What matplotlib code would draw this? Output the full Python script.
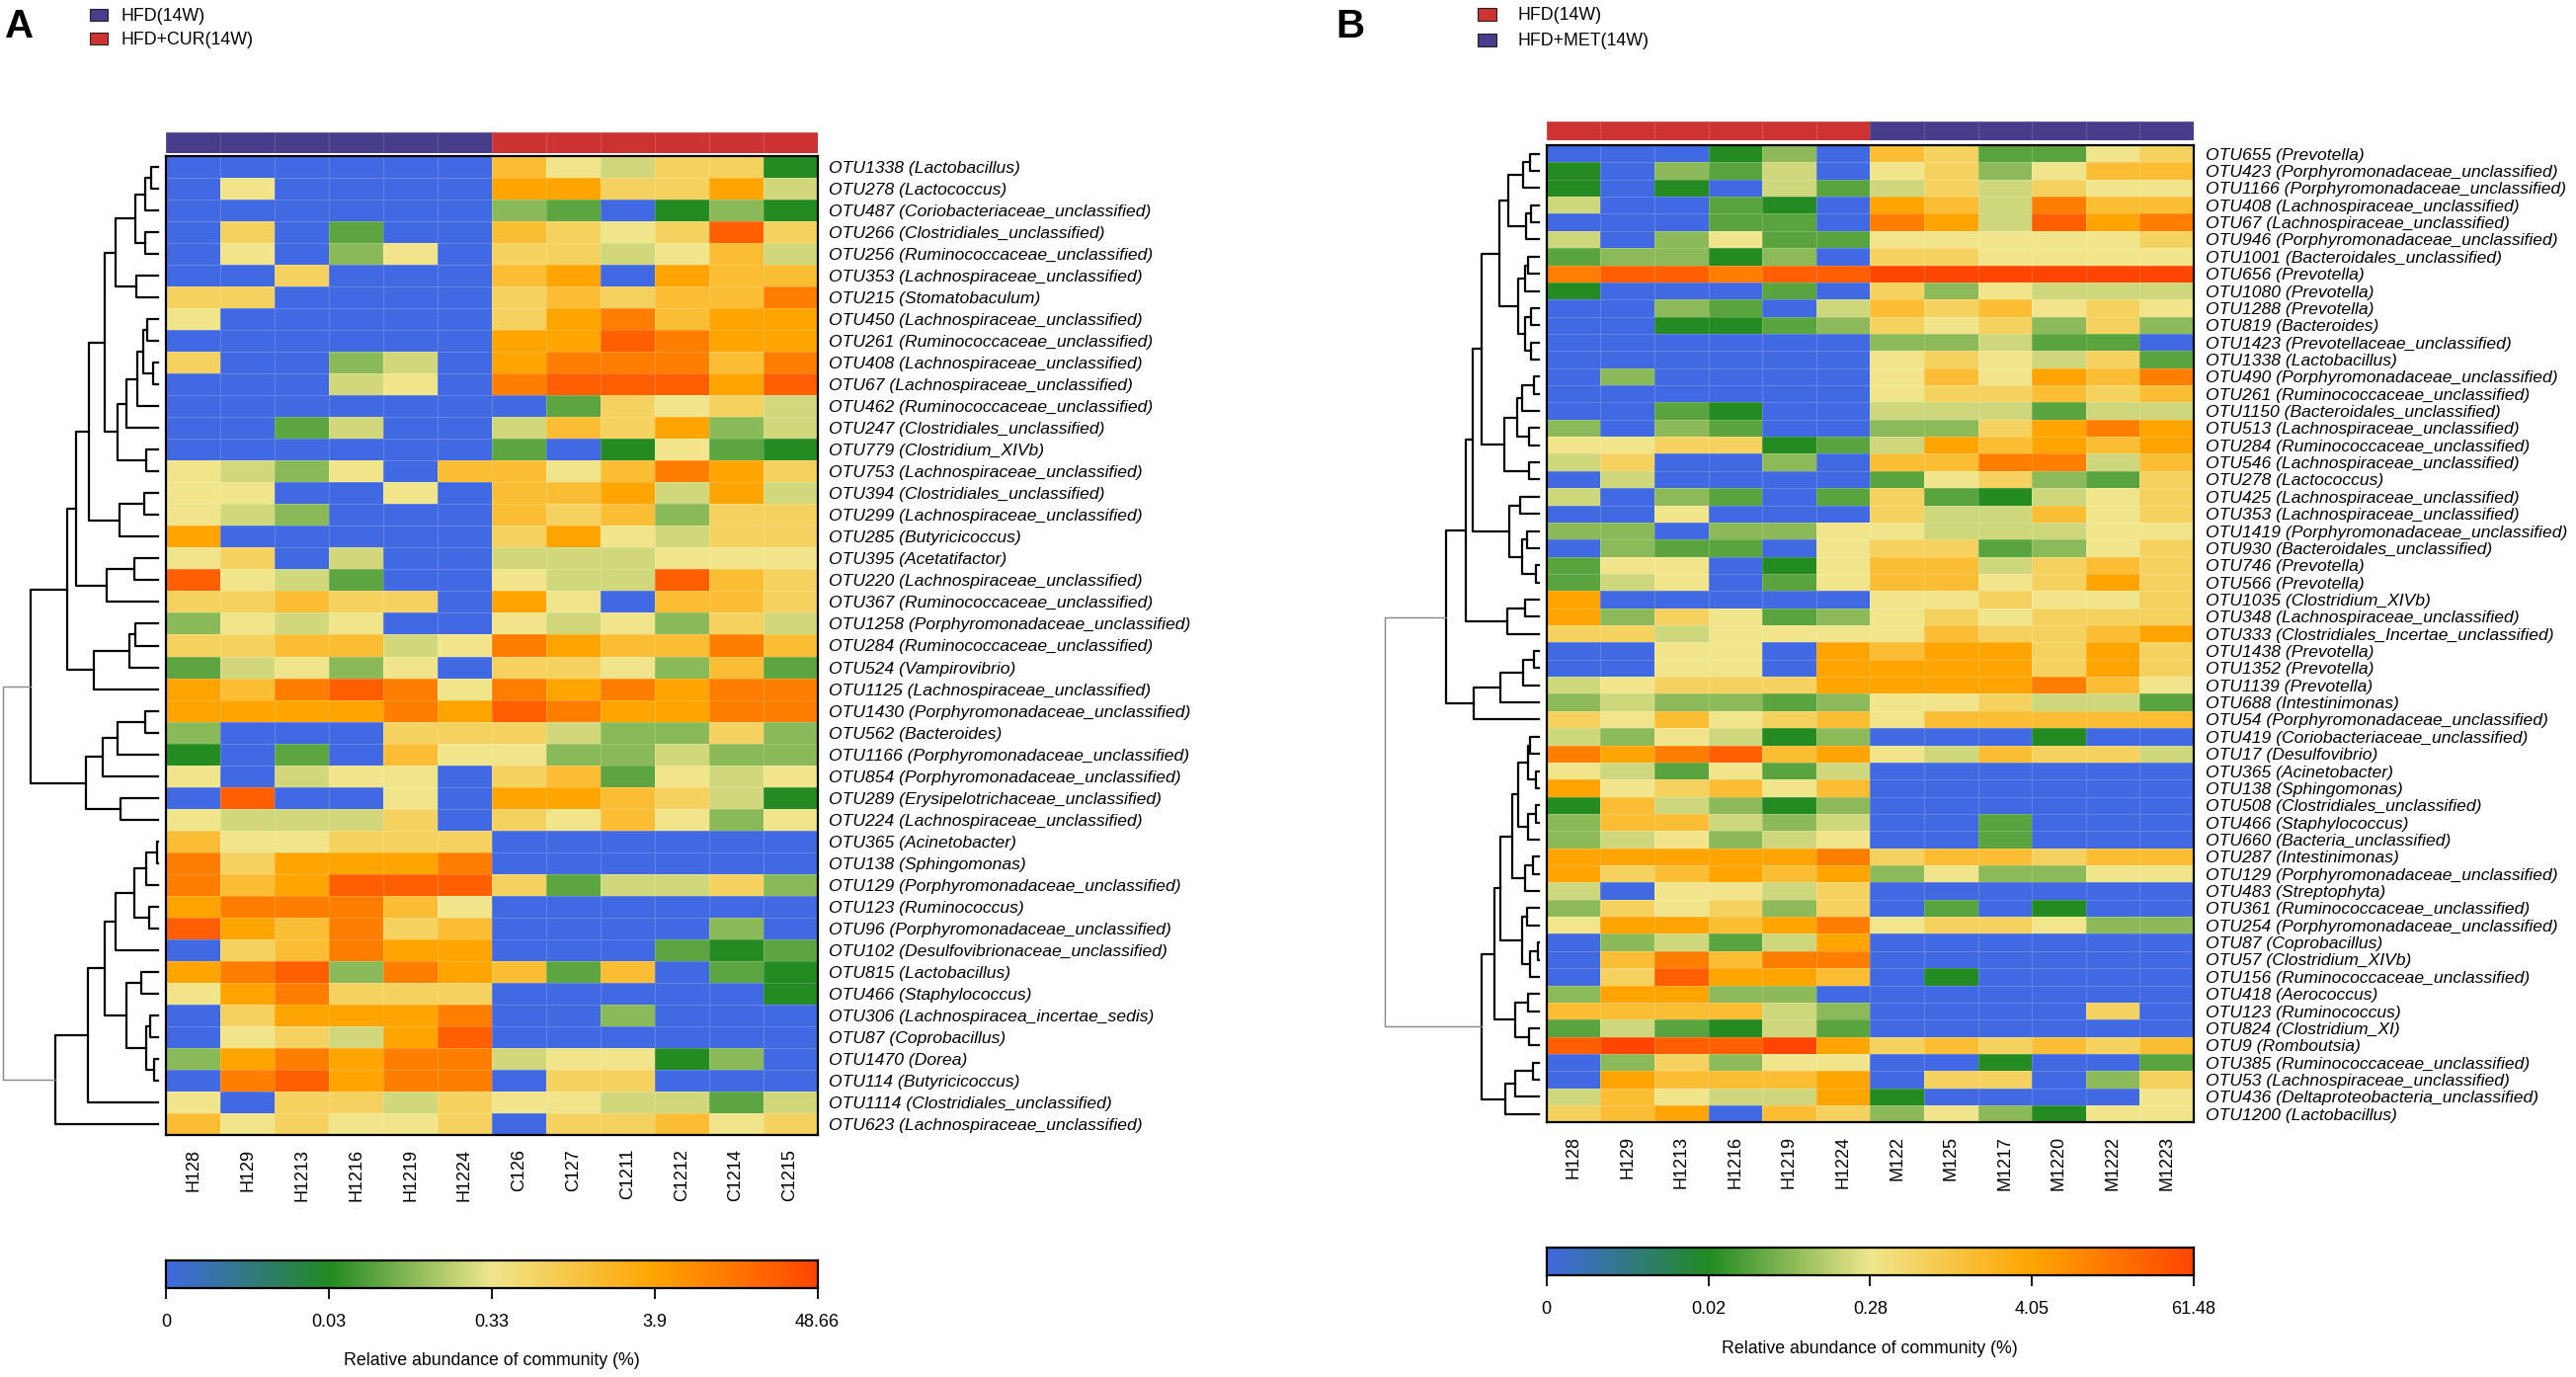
import numpy as np
import matplotlib.pyplot as plt
from matplotlib.colors import LinearSegmentedColormap, ListedColormap
from matplotlib.patches import Rectangle

plt.rcParams['font.family'] = ['Liberation Sans', 'DejaVu Sans']

W, H = 2608, 1394
PURPLE = '#483D8B'
RED = '#CD3333'
cmap = LinearSegmentedColormap.from_list(
    'abund', ['royalblue', 'forestgreen', 'khaki', 'orange', 'orangered'], N=256)

# ---------------- panel A : HFD vs HFD+CUR ----------------
samples_a = ['H128', 'H129', 'H1213', 'H1216', 'H1219', 'H1224',
             'C126', 'C127', 'C1211', 'C1212', 'C1214', 'C1215']
groups_a = [0] * 6 + [1] * 6
legend_a = ['HFD(14W)', 'HFD+CUR(14W)']
otus_a = [
    'OTU1338 (Lactobacillus)', 'OTU278 (Lactococcus)', 'OTU487 (Coriobacteriaceae_unclassified)',
    'OTU266 (Clostridiales_unclassified)', 'OTU256 (Ruminococcaceae_unclassified)',
    'OTU353 (Lachnospiraceae_unclassified)', 'OTU215 (Stomatobaculum)',
    'OTU450 (Lachnospiraceae_unclassified)', 'OTU261 (Ruminococcaceae_unclassified)',
    'OTU408 (Lachnospiraceae_unclassified)', 'OTU67 (Lachnospiraceae_unclassified)',
    'OTU462 (Ruminococcaceae_unclassified)', 'OTU247 (Clostridiales_unclassified)',
    'OTU779 (Clostridium_XIVb)', 'OTU753 (Lachnospiraceae_unclassified)',
    'OTU394 (Clostridiales_unclassified)', 'OTU299 (Lachnospiraceae_unclassified)',
    'OTU285 (Butyricicoccus)', 'OTU395 (Acetatifactor)', 'OTU220 (Lachnospiraceae_unclassified)',
    'OTU367 (Ruminococcaceae_unclassified)', 'OTU1258 (Porphyromonadaceae_unclassified)',
    'OTU284 (Ruminococcaceae_unclassified)', 'OTU524 (Vampirovibrio)',
    'OTU1125 (Lachnospiraceae_unclassified)', 'OTU1430 (Porphyromonadaceae_unclassified)',
    'OTU562 (Bacteroides)', 'OTU1166 (Porphyromonadaceae_unclassified)',
    'OTU854 (Porphyromonadaceae_unclassified)', 'OTU289 (Erysipelotrichaceae_unclassified)',
    'OTU224 (Lachnospiraceae_unclassified)', 'OTU365 (Acinetobacter)', 'OTU138 (Sphingomonas)',
    'OTU129 (Porphyromonadaceae_unclassified)', 'OTU123 (Ruminococcus)',
    'OTU96 (Porphyromonadaceae_unclassified)', 'OTU102 (Desulfovibrionaceae_unclassified)',
    'OTU815 (Lactobacillus)', 'OTU466 (Staphylococcus)', 'OTU306 (Lachnospiracea_incertae_sedis)',
    'OTU87 (Coprobacillus)', 'OTU1470 (Dorea)', 'OTU114 (Butyricicoccus)',
    'OTU1114 (Clostridiales_unclassified)', 'OTU623 (Lachnospiraceae_unclassified)',
]
# colour level read from each cell: 0 = blue ... b = deepest orange-red
cells_a = [
    '000000754661', '050000886684', '000000320131', '0602007656a6', '050350664574',
    '006000780877', '660000676779', '500000689788', '00000088a988', '600340899979',
    '0004509aaa8a', '000000026564', '002400476834', '000000201521', '543507757986',
    '550050778484', '543000767366', '800000685466', '560400444555', 'a54200544a76',
    '667660850776', '354500545364', '667745987797', '245350665372', '879a95989899',
    '888898a98899', '300066643363', '102075533433', '504550672545', '0a0050887641',
    '544460657535', '755666000000', '968889000000', '978aaa624463', '899975000000',
    'a87967000030', '067988000212', '89a398727021', '589666000001', '068889003000',
    '05648a000000', '389899455130', '09a899066000', '506646554424', '756556066756',
]
ticks_a = [0, 0.03, 0.33, 3.9, 48.66]
pct_a = {'0': 0, '1': 0.03, '2': 0.059, '3': 0.10, '4': 0.23, '5': 0.33, '6': 0.73,
         '7': 1.6, '8': 3.9, '9': 10.7, 'a': 24.0, 'b': 48.66}

# row dendrogram: (left, right, merge height)
a01 = (0, 1, 7.3); a0_2 = (a01, 2, 13.3); a34 = (3, 4, 12.7); a0_4 = (a0_2, a34, 23)
a56 = (5, 6, 22); a0_6 = (a0_4, a56, 42.7)
a78 = (7, 8, 10.7); a910 = (9, 10, 4.7); a7_10 = (a78, a910, 15); a7_11 = (a7_10, 11, 20.7)
a7_12 = (a7_11, 12, 32); a1314 = (13, 14, 12.3); a7_14 = (a7_12, a1314, 40.7)
a0_14 = (a0_6, a7_14, 54)
a1516 = (15, 16, 14); a15_17 = (a1516, 17, 39); a0_17 = (a0_14, a15_17, 70)
a1819 = (18, 19, 24.3); a18_20 = (a1819, 20, 52.3); a0_20 = (a0_17, a18_20, 83)
a2122 = (21, 22, 23.3); a21_23 = (a2122, 23, 29.5); a21_24 = (a21_23, 24, 65)
a0_24 = (a0_20, a21_24, 92)
a2526 = (25, 26, 12.7); a25_27 = (a2526, 27, 40.7); a25_28 = (a25_27, 28, 55.7)
a2930 = (29, 30, 37.7); a25_30 = (a25_28, a2930, 73.3); a0_30 = (a0_24, a25_30, 129.3)
a3132 = (31, 32, 1.3); a31_33 = (a3132, 33, 11.7); a3435 = (34, 35, 9)
a31_35 = (a31_33, a3435, 24); a31_36 = (a31_35, 36, 43.3)
a3738 = (37, 38, 17.3); a3940 = (39, 40, 7.7); a4142 = (41, 42, 4.3)
a39_42 = (a3940, a4142, 12.3); a37_42 = (a3738, a39_42, 31.7)
a31_42 = (a31_36, a37_42, 54); a31_43 = (a31_42, 43, 71); a31_44 = (a31_43, 44, 104)
tree_a = (a0_30, a31_44, 156.7)

# ---------------- panel B : HFD vs HFD+MET ----------------
samples_b = ['H128', 'H129', 'H1213', 'H1216', 'H1219', 'H1224',
             'M122', 'M125', 'M1217', 'M1220', 'M1222', 'M1223']
groups_b = [1] * 6 + [0] * 6
legend_b = ['HFD(14W)', 'HFD+MET(14W)']
otus_b = [
    'OTU655 (Prevotella)', 'OTU423 (Porphyromonadaceae_unclassified)',
    'OTU1166 (Porphyromonadaceae_unclassified)', 'OTU408 (Lachnospiraceae_unclassified)',
    'OTU67 (Lachnospiraceae_unclassified)', 'OTU946 (Porphyromonadaceae_unclassified)',
    'OTU1001 (Bacteroidales_unclassified)', 'OTU656 (Prevotella)', 'OTU1080 (Prevotella)',
    'OTU1288 (Prevotella)', 'OTU819 (Bacteroides)', 'OTU1423 (Prevotellaceae_unclassified)',
    'OTU1338 (Lactobacillus)', 'OTU490 (Porphyromonadaceae_unclassified)',
    'OTU261 (Ruminococcaceae_unclassified)', 'OTU1150 (Bacteroidales_unclassified)',
    'OTU513 (Lachnospiraceae_unclassified)', 'OTU284 (Ruminococcaceae_unclassified)',
    'OTU546 (Lachnospiraceae_unclassified)', 'OTU278 (Lactococcus)',
    'OTU425 (Lachnospiraceae_unclassified)', 'OTU353 (Lachnospiraceae_unclassified)',
    'OTU1419 (Porphyromonadaceae_unclassified)', 'OTU930 (Bacteroidales_unclassified)',
    'OTU746 (Prevotella)', 'OTU566 (Prevotella)', 'OTU1035 (Clostridium_XIVb)',
    'OTU348 (Lachnospiraceae_unclassified)', 'OTU333 (Clostridiales_Incertae_unclassified)',
    'OTU1438 (Prevotella)', 'OTU1352 (Prevotella)', 'OTU1139 (Prevotella)',
    'OTU688 (Intestinimonas)', 'OTU54 (Porphyromonadaceae_unclassified)',
    'OTU419 (Coriobacteriaceae_unclassified)', 'OTU17 (Desulfovibrio)', 'OTU365 (Acinetobacter)',
    'OTU138 (Sphingomonas)', 'OTU508 (Clostridiales_unclassified)', 'OTU466 (Staphylococcus)',
    'OTU660 (Bacteria_unclassified)', 'OTU287 (Intestinimonas)',
    'OTU129 (Porphyromonadaceae_unclassified)', 'OTU483 (Streptophyta)',
    'OTU361 (Ruminococcaceae_unclassified)', 'OTU254 (Porphyromonadaceae_unclassified)',
    'OTU87 (Coprobacillus)', 'OTU57 (Clostridium_XIVb)', 'OTU156 (Ruminococcaceae_unclassified)',
    'OTU418 (Aerococcus)', 'OTU123 (Ruminococcus)', 'OTU824 (Clostridium_XI)', 'OTU9 (Romboutsia)',
    'OTU385 (Ruminococcaceae_unclassified)', 'OTU53 (Lachnospiraceae_unclassified)',
    'OTU436 (Deltaproteobacteria_unclassified)', 'OTU1200 (Lactobacillus)',
]
cells_b = [
    '000130762256', '103240563577', '101042464655', '400210874977', '000220984a89',
    '403522555556', '233130665555', '9aa9aabbbbbb', '100020635444', '003204767565',
    '001123656363', '000000334220', '000000565462', '030000575879', '000000566767',
    '002100444244', '303200336898', '556612487878', '460030779947', '040000256326',
    '403202621456', '005000644756', '330335544455', '032205662356', '255015774676',
    '245025775686', '800000556556', '836523565666', '664555576678', '005508788686',
    '005508888686', '456668888975', '343323556442', '657567577777', '435413000100',
    '989a78547664', '542524000000', '856757000000', '174313000000', '377434002000',
    '345345002000', '888889677677', '867878353355', '405546000000', '365636020100',
    '588789566533', '034248000000', '079799000000', '06a887010000', '388330000000',
    '777743000060', '242142000000', 'abaab8676767', '036355001002', '087778066036',
    '475448100005', '678076353155',
]
ticks_b = [0, 0.02, 0.28, 4.05, 61.48]
pct_b = {'0': 0, '1': 0.02, '2': 0.042, '3': 0.079, '4': 0.18, '5': 0.28, '6': 0.66,
         '7': 1.55, '8': 4.05, '9': 12.0, 'a': 28.7, 'b': 61.48}

b01 = (0, 1, 8.7); b0_2 = (b01, 2, 16); b34 = (3, 4, 7.7); b3_5 = (b34, 5, 12.7)
b0_5 = (b0_2, b3_5, 31)
b67 = (6, 7, 10.3); b6_8 = (b67, 8, 13.7); b910 = (9, 10, 7.3); b1112 = (11, 12, 7.3)
b9_12 = (b910, b1112, 13.7); b6_12 = (b6_8, b9_12, 20.3); b0_12 = (b0_5, b6_12, 40)
b1314 = (13, 14, 5); b13_15 = (b1314, 15, 16.7); b1617 = (16, 17, 9.7)
b13_17 = (b13_15, b1617, 21.7); b1819 = (18, 19, 9.7); b13_19 = (b13_17, b1819, 35)
b0_19 = (b0_12, b13_19, 57.7)
b2021 = (20, 21, 18.3); b2223 = (22, 23, 12); b2425 = (24, 25, 3)
b22_25 = (b2223, b2425, 17); b20_25 = (b2021, b22_25, 29.3); b0_25 = (b0_19, b20_25, 66.7)
b2627 = (26, 27, 13.7); b26_28 = (b2627, 28, 31.7); b0_28 = (b0_25, b26_28, 73.3)
b2930 = (29, 30, 5); b29_31 = (b2930, 31, 15.7); b29_32 = (b29_31, 32, 38.3)
b29_33 = (b29_32, 33, 66); b0_33 = (b0_28, b29_33, 93.7)
b3435 = (34, 35, 8.3); b3637 = (36, 37, 3); b34_37 = (b3435, b3637, 11)
b3839 = (38, 39, 3); b38_40 = (b3839, 40, 10.3); b34_40 = (b34_37, b38_40, 21)
b4142 = (41, 42, 6); b41_43 = (b4142, 43, 13.3); b34_43 = (b34_40, b41_43, 27)
b4445 = (44, 45, 11.7); b4647 = (46, 47, 1); b46_48 = (b4647, 48, 8.7)
b44_48 = (b4445, b46_48, 17); b34_48 = (b34_43, b44_48, 38.7)
b4950 = (49, 50, 11); b5152 = (51, 52, 9.7); b49_52 = (b4950, b5152, 23.3)
b34_52 = (b34_48, b49_52, 44.3)
b5354 = (53, 54, 6); b53_55 = (b5354, 55, 23.3); b53_56 = (b53_55, 56, 33.3)
b34_56 = (b34_52, b53_56, 57.7)
tree_b = (b0_33, b34_56, 156)


fig = plt.figure(figsize=(W / 100, H / 100), dpi=100)


def px_axes(x0, y0, x1, y1):
    return fig.add_axes([x0 / W, 1 - y1 / H, (x1 - x0) / W, (y1 - y0) / H])


def to_pos(v, ticks):
    # position along the colour key: linear up to the first tick, log between the others
    v = np.asarray(v, float)
    lo = v / ticks[1] * 0.25
    hi = np.interp(np.log10(np.maximum(v, ticks[1])), np.log10(ticks[1:]), [0.25, 0.5, 0.75, 1.0])
    return np.where(v < ticks[1], lo, hi)


def draw_tree(ax, node, color='black', lw=1.6):
    if isinstance(node, int):
        return node + 0.5, 0.0
    left, right, h = node
    y1, h1 = draw_tree(ax, left)
    y2, h2 = draw_tree(ax, right)
    ax.plot([h1, h, h, h2], [y1, y1, y2, y2], color=color, lw=lw, clip_on=False)
    return (y1 + y2) / 2, h


def draw_panel(letter, names, samples, groups, otus, cells, pct, ticks, tree, g):
    n = len(otus)
    vals = np.array([[pct[c] for c in row] for row in cells])
    x0, y0, x1, y1 = g['heat']

    ax = px_axes(x0, y0, x1, y1)
    ax.pcolormesh(to_pos(vals, ticks), cmap=cmap, vmin=0, vmax=1,
                  edgecolors=(1, 1, 1, 0.18), linewidth=0.5)
    ax.set_xlim(0, len(samples))
    ax.set_ylim(n, 0)
    ax.yaxis.tick_right()
    ax.set_yticks(np.arange(n) + 0.5)
    ax.set_yticklabels(otus, fontstyle='italic', fontsize=12.6)
    ax.set_xticks(np.arange(len(samples)) + 0.5)
    ax.set_xticklabels(samples, rotation=90, fontsize=13)
    ax.tick_params(axis='y', length=0, pad=8.5)
    ax.tick_params(axis='x', length=0, pad=10)
    for s in ax.spines.values():
        s.set_linewidth(1.6)

    # sample group bar
    bx = px_axes(x0, g['bar'][0], x1, g['bar'][1])
    bx.pcolormesh(np.array([groups]), cmap=ListedColormap([PURPLE, RED]), vmin=0, vmax=1,
                  edgecolors=(1, 1, 1, 0.15), linewidth=0.5)
    bx.set_axis_off()

    # row dendrogram
    lx = g['leaf']
    dx = px_axes(lx - 170, y0, lx, y1)
    left, right, h = tree
    ya, ha = draw_tree(dx, left)
    yb, hb = draw_tree(dx, right)
    dx.plot([ha, h, h, hb], [ya, ya, yb, yb], color='#888888', lw=1.0, clip_on=False)
    dx.set_xlim(170, 0)
    dx.set_ylim(n, 0)
    dx.set_axis_off()

    # colour key
    cx = px_axes(x0, g['cbar'][0], x1, g['cbar'][1])
    cx.imshow(np.linspace(0, 1, 256)[None, :], aspect='auto', cmap=cmap, extent=[0, 1, 0, 1])
    cx.set_xlim(0, 1)
    cx.set_yticks([])
    cx.set_xticks([0, 0.25, 0.5, 0.75, 1])
    cx.set_xticklabels(['{:g}'.format(t) for t in ticks], fontsize=13)
    cx.tick_params(axis='x', length=8, width=1.3, pad=11)
    for s in cx.spines.values():
        s.set_linewidth(1.6)
    fig.text((x0 + x1) / 2 / W, 1 - g['caption'] / H, 'Relative abundance of community (%)',
             ha='center', va='center', fontsize=12.8)

    # panel letter and group legend
    fig.text(g['letter'][0] / W, 1 - g['letter'][1] / H, letter, fontsize=29,
             fontweight='bold', va='baseline')
    sx0, sx1 = g['sq_x']
    for name, col, (sy0, sy1), ty in zip(names, g['colors'], g['sq_y'], g['text_y']):
        fig.add_artist(Rectangle((sx0 / W, 1 - sy1 / H), (sx1 - sx0) / W, (sy1 - sy0) / H,
                                 transform=fig.transFigure, facecolor=col,
                                 edgecolor='#222222', lw=0.8))
        fig.text(g['text_x'] / W, 1 - ty / H, name, fontsize=12.8, va='center')


geom_a = dict(heat=(168.3, 158, 827.5, 1149), bar=(134, 155), cbar=(1276, 1304), caption=1378,
              leaf=160, letter=(5, 38), sq_x=(91, 109), sq_y=[(9, 21), (33, 45)],
              text_x=122, text_y=[16.5, 40.5], colors=[PURPLE, RED])
geom_b = dict(heat=(1565.7, 147, 2221, 1136.4), bar=(122.6, 141.8), cbar=(1263, 1291), caption=1366,
              leaf=1557.7, letter=(1352, 38), sq_x=(1496, 1515), sq_y=[(8, 21), (34, 47)],
              text_x=1536, text_y=[15, 41], colors=[RED, PURPLE])

draw_panel('A', legend_a, samples_a, groups_a, otus_a, cells_a, pct_a, ticks_a, tree_a, geom_a)
draw_panel('B', legend_b, samples_b, groups_b, otus_b, cells_b, pct_b, ticks_b, tree_b, geom_b)

fig.savefig('out.png', dpi=100)
